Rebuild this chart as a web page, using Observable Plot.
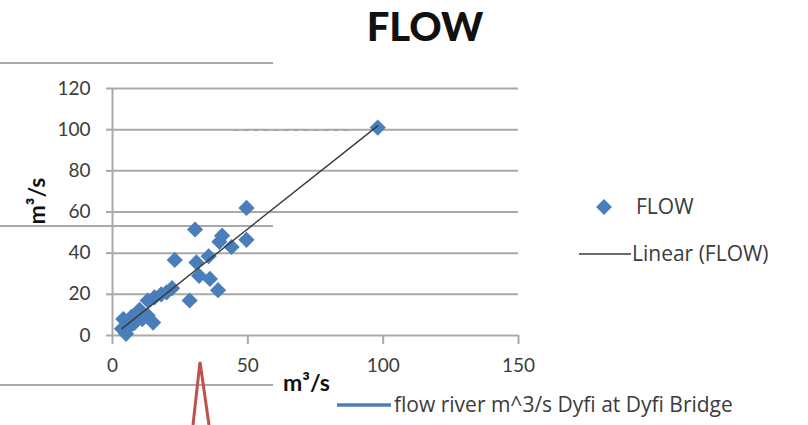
<!DOCTYPE html>
<html>
<head>
<meta charset="utf-8">
<script src="https://cdn.jsdelivr.net/npm/d3@7"></script>
<script src="https://cdn.jsdelivr.net/npm/@observablehq/plot@0.6"></script>
<style>
  html, body { margin: 0; padding: 0; background: #fff; }
  #chart { width: 808px; height: 425px; overflow: hidden; }
</style>
</head>
<body>
<div id="chart"></div>
<script>
// ---- data (x = flow at one gauge, y = flow at other), m³/s ----
const flowX = [98, 49.5, 49.5, 30.5, 40.5, 39.5, 44, 35.5, 23, 31, 32, 36, 39, 28.5, 22, 18, 15.5, 13, 10, 15, 13, 4, 6.5, 5, 7, 3.5, 8, 11, 20, 6];
const flowY = [101, 62, 46.5, 51.5, 48.5, 45.5, 43, 38.5, 36.7, 35.5, 29, 27.5, 22, 17, 23, 20, 18.5, 17, 12.5, 6.3, 9.7, 8, 5.7, 0.8, 9, 3.3, 6, 8, 21, 4];
const xTicks = [0, 50, 100, 150];
const yTicks = [0, 20, 40, 60, 80, 100, 120];
const titleText = "FLOW";
const axisTitle = "m³/s";
const legendLabels = ["FLOW", "Linear (FLOW)"];
const strayLegendText = "flow river m^3/s Dyfi at Dyfi Bridge";

const data = flowX.map((x, i) => ({x, y: flowY[i]}));

const blue = "#4a7ebb";
const grid = "#a9a9a9";
const ink = "#3c3c3c";
const font = "Lato, 'Open Sans', sans-serif";
const legendFont = "'Open Sans', Lato, sans-serif";

const svg = Plot.plot({
  width: 808,
  height: 425,
  marginLeft: 112,
  marginRight: 290,
  marginTop: 88,
  marginBottom: 90,
  style: {fontFamily: font, fontSize: "19px", color: ink, background: "#fff", overflow: "visible"},
  x: {domain: [0, 150]},
  y: {domain: [0, 120]},
  marks: [
    Plot.gridY(yTicks, {stroke: grid, strokeOpacity: 1, strokeWidth: 2}),
    Plot.axisY(yTicks, {tickSize: 6, tickPadding: 16, stroke: grid, strokeWidth: 2, fill: ink, label: null}),
    Plot.ruleX([0], {stroke: grid, strokeWidth: 2}),
    Plot.axisX(xTicks, {tickSize: 9, tickPadding: 14, stroke: grid, strokeWidth: 2, fill: ink, label: null}),
    Plot.dot(data, {x: "x", y: "y", symbol: "diamond2", r: 7.3, fill: blue}),
    Plot.linearRegressionY(data, {x: "x", y: "y", stroke: "#3a3a3a", strokeWidth: 1.4, ci: 0})
  ]
});

const s = d3.select(svg);

// stray lines from neighbouring screenshot content (drawn behind the chart)
const back = s.insert("g", ":first-child");
back.append("line").attr("x1", 0).attr("x2", 273).attr("y1", 63).attr("y2", 63).attr("stroke", grid).attr("stroke-width", 2);
back.append("line").attr("x1", 0).attr("x2", 273).attr("y1", 226).attr("y2", 226).attr("stroke", grid).attr("stroke-width", 2);
back.append("line").attr("x1", 0).attr("x2", 273).attr("y1", 385).attr("y2", 385).attr("stroke", grid).attr("stroke-width", 2);
back.append("line").attr("x1", 233).attr("x2", 350).attr("y1", 130).attr("y2", 130).attr("stroke", "#777").attr("stroke-width", 1.5).attr("stroke-dasharray", "6,4");

function label(x, y, txt, size, weight, fill, anchor, fam) {
  return s.append("text").attr("x", x).attr("y", y).attr("text-anchor", anchor || "start")
    .attr("font-family", fam || font).attr("font-weight", weight).attr("font-size", size).attr("fill", fill).text(txt);
}

// title
label(425, 41, titleText, 40, 900, "#111", "middle");

// axis titles
s.append("text").attr("transform", "translate(45,201) rotate(-90)").attr("text-anchor", "middle")
  .attr("font-family", font).attr("font-weight", 700).attr("font-size", 23).attr("fill", "#111").text(axisTitle);
label(283, 391, axisTitle, 23, 700, "#111");

// legend
s.append("path").attr("transform", "translate(604,207)").attr("d", d3.symbol(d3.symbolDiamond2, 160)()).attr("fill", blue);
label(636, 214, legendLabels[0], 21, 400, ink, "start", legendFont);
s.append("line").attr("x1", 579).attr("x2", 631).attr("y1", 254).attr("y2", 254).attr("stroke", "#3a3a3a").attr("stroke-width", 1.6);
label(632, 261, legendLabels[1], 21, 400, ink, "start", legendFont);

// red spike and stray legend entry at the bottom
s.append("path").attr("d", "M193,425 L200,362 L209,425").attr("fill", "none").attr("stroke", "#c0504d").attr("stroke-width", 3);
s.append("line").attr("x1", 337).attr("x2", 391).attr("y1", 405).attr("y2", 405).attr("stroke", blue).attr("stroke-width", 3.5);
label(394, 412, strayLegendText, 21, 400, ink, "start", legendFont);

document.getElementById("chart").appendChild(svg);
</script>
</body>
</html>
